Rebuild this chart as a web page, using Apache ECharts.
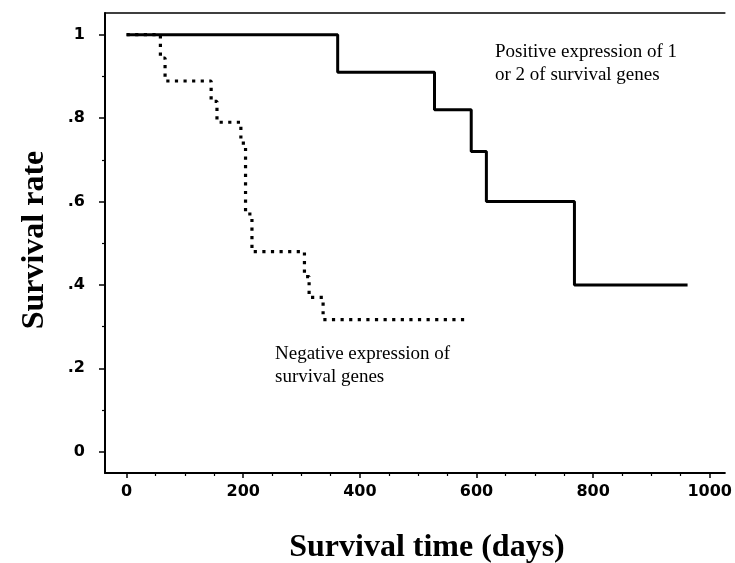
<!DOCTYPE html>
<html><head><meta charset="utf-8">
<script src="https://cdn.jsdelivr.net/npm/echarts@6/dist/echarts.min.js"></script>
<style>html,body{margin:0;padding:0;background:#fff}#c{width:735px;height:563px}</style>
</head><body><div id="c"></div>
<script>
// Positive expression of 1 or 2 survival genes (Kaplan-Meier steps)
const posDays = [0, 362, 528, 591, 617, 768, 962];
const posRate = [1, 0.91, 0.82, 0.72, 0.60, 0.40, 0.40];
// Negative expression of survival genes
const negDays = [0, 58, 66, 145, 155, 196, 204, 215, 305, 313, 337, 583];
const negRate = [1, 0.944, 0.889, 0.84, 0.79, 0.74, 0.57, 0.48, 0.42, 0.37, 0.317, 0.317];
// ticks
const xMajorTicks = [0, 200, 400, 600, 800, 1000];
const xTickLabels = ['0', '200', '400', '600', '800', '1000'];
const xMinorTicks = [50, 100, 150, 250, 300, 350, 450, 500, 550, 650, 700, 750, 850, 900, 950];
const yMajorTicks = [0, 0.2, 0.4, 0.6, 0.8, 1];
const yTickLabels = ['0', '.2', '.4', '.6', '.8', '1'];
const yMinorTicks = [0.1, 0.3, 0.5, 0.7, 0.9];
const xTitle = 'Survival time (days)';
const yTitle = 'Survival rate';
const posNote = 'Positive expression of 1\nor 2 of survival genes';
const negNote = 'Negative expression of\nsurvival genes';

const XMIN = -37, XMAX = 1026, YMIN = -0.051, YMAX = 1.052;
const lineC = '#000';
const chart = echarts.init(document.getElementById('c'), null, {renderer: 'canvas'});
const hidden = {show: false};
const pick = (ticks, labels) => v => labels[ticks.findIndex(t => Math.abs(t - v) < 1e-6)];
chart.setOption({
  backgroundColor: '#fff',
  animation: false,
  grid: {left: 105, right: 4, top: 13, bottom: 90, containLabel: false},
  xAxis: [
    {type: 'value', min: XMIN, max: XMAX, position: 'bottom',
     axisLine: {show: true, onZero: false, lineStyle: {color: lineC, width: 2}},
     axisTick: {show: true, length: 5, customValues: xMajorTicks, lineStyle: {color: lineC, width: 1.5}},
     axisLabel: {show: true, customValues: xMajorTicks, margin: 11, color: '#000',
       fontFamily: 'DejaVu Sans', fontWeight: 'bold', fontSize: 16,
       formatter: pick(xMajorTicks, xTickLabels)},
     splitLine: hidden},
    {type: 'value', min: XMIN, max: XMAX, position: 'bottom',
     axisLine: {show: false, onZero: false},
     axisTick: {show: true, length: 3, customValues: xMinorTicks, lineStyle: {color: lineC, width: 1.2}},
     axisLabel: hidden, splitLine: hidden},
    {type: 'value', min: XMIN, max: XMAX, position: 'top',
     axisLine: {show: true, onZero: false, lineStyle: {color: lineC, width: 1.5}},
     axisTick: hidden, axisLabel: hidden, splitLine: hidden}
  ],
  yAxis: [
    {type: 'value', min: YMIN, max: YMAX, position: 'left',
     axisLine: {show: true, onZero: false, lineStyle: {color: lineC, width: 2}},
     axisTick: {show: true, length: 6, customValues: yMajorTicks, lineStyle: {color: lineC, width: 1.5}},
     axisLabel: {show: true, customValues: yMajorTicks, margin: 20, color: '#000',
       fontFamily: 'DejaVu Sans', fontWeight: 'bold', fontSize: 16,
       formatter: pick(yMajorTicks, yTickLabels)},
     splitLine: hidden},
    {type: 'value', min: YMIN, max: YMAX, position: 'left',
     axisLine: {show: false, onZero: false},
     axisTick: {show: true, length: 3, customValues: yMinorTicks, lineStyle: {color: lineC, width: 1.2}},
     axisLabel: hidden, splitLine: hidden}
  ],
  series: [
    {type: 'line', name: 'negative', xAxisIndex: 0, yAxisIndex: 0, step: 'end', symbol: 'none',
     data: negDays.map((d, i) => [d, negRate[i]]),
     lineStyle: {color: lineC, width: 3.2, type: [3.2, 5.4], cap: 'butt'}, z: 2},
    {type: 'line', name: 'positive', xAxisIndex: 0, yAxisIndex: 0, step: 'end', symbol: 'none',
     data: posDays.map((d, i) => [d, posRate[i]]),
     lineStyle: {color: lineC, width: 3}, z: 3}
  ],
  graphic: [
    {type: 'text', x: 427, y: 548, style: {text: xTitle, fill: '#000', font: 'bold 32px "Liberation Serif"',
      textAlign: 'center', textVerticalAlign: 'middle'}},
    {type: 'text', x: 35, y: 240, rotation: Math.PI / 2, style: {text: yTitle, fill: '#000', font: 'bold 32px "Liberation Serif"',
      textAlign: 'center', textVerticalAlign: 'middle'}},
    {type: 'text', x: 495, y: 41, style: {text: posNote, fill: '#000', font: '19px "Liberation Serif"',
      lineHeight: 23, textAlign: 'left', textVerticalAlign: 'top'}},
    {type: 'text', x: 275, y: 343, style: {text: negNote, fill: '#000', font: '19px "Liberation Serif"',
      lineHeight: 23, textAlign: 'left', textVerticalAlign: 'top'}}
  ]
});
</script></body></html>
